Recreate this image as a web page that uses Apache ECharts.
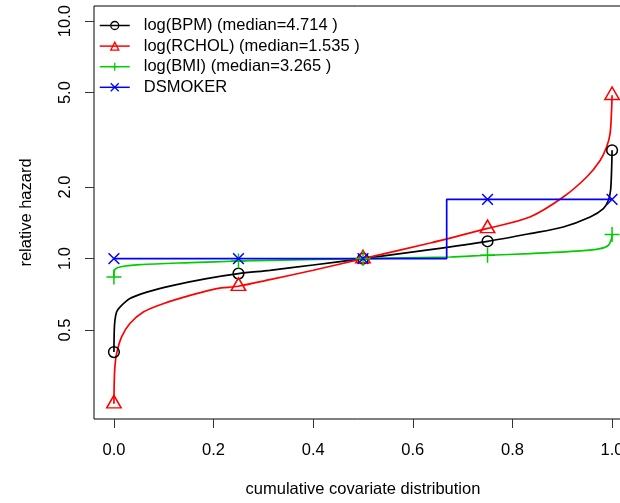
<!DOCTYPE html>
<html><head><meta charset="utf-8">
<script src="https://cdn.jsdelivr.net/npm/echarts@6/dist/echarts.min.js"></script>
<style>html,body{margin:0;padding:0;background:#fff}#c{width:620px;height:503px}</style>
</head><body><div id="c"></div>
<script>
// ---- data ----
const markerX = [0, 0.25, 0.5, 0.75, 1];

const bpmX = [0, 0.0007, 0.002, 0.0053, 0.012, 0.032, 0.066, 0.119, 0.186, 0.25, 0.313, 0.4, 0.5, 0.635, 0.75, 0.835, 0.902, 0.956, 0.9826, 0.9926, 0.997, 0.999, 1];
const bpmY = [0.404, 0.499, 0.55, 0.596, 0.625, 0.679, 0.723, 0.772, 0.824, 0.865, 0.893, 0.94, 1.0, 1.091, 1.183, 1.274, 1.359, 1.497, 1.623, 1.76, 1.94, 2.35, 2.86];

const rcholX = [0, 0.0007, 0.002, 0.0053, 0.0154, 0.032, 0.059, 0.099, 0.153, 0.206, 0.25, 0.313, 0.4, 0.5, 0.635, 0.75, 0.835, 0.902, 0.949, 0.976, 0.989, 0.996, 0.999, 1];
const rcholY = [0.245, 0.307, 0.35, 0.398, 0.468, 0.533, 0.596, 0.646, 0.70, 0.748, 0.765, 0.816, 0.893, 1.0, 1.163, 1.34, 1.497, 1.817, 2.206, 2.59, 2.95, 3.36, 4.21, 4.87];

const bmiX = [0, 0.001, 0.012, 0.052, 0.153, 0.25, 0.313, 0.5, 0.675, 0.75, 0.835, 0.936, 0.976, 0.9926, 0.999, 1];
const bmiY = [0.837, 0.893, 0.922, 0.943, 0.962, 0.977, 0.984, 1.0, 1.016, 1.033, 1.049, 1.077, 1.101, 1.138, 1.214, 1.265];

const smokX = [0, 0.25, 0.5, 0.668, 0.668, 0.75, 1];
const smokY = [1, 1, 1, 1, 1.777, 1.777, 1.777];

const seriesNames = ['log(BPM) (median=4.714 )', 'log(RCHOL) (median=1.535 )', 'log(BMI) (median=3.265 )', 'DSMOKER'];
const xTicks = [0, 0.2, 0.4, 0.6, 0.8, 1.0];
const yTicks = [0.5, 1, 2, 5, 10];
const xTitle = 'cumulative covariate distribution';
const yTitle = 'relative hazard';

// ---- build ----
const FONT = 'Liberation Sans, Arial, Helvetica, sans-serif';
const FS = 16.5;
const PLUS = 'path://M0,-1L0,1M-1,0L1,0';
const CROSS = 'path://M-1,-1L1,1M-1,1L1,-1';

function build(xs, ys) {
  return xs.map((x, i) => {
    const item = { value: [x, Math.log10(ys[i])] };
    if (!markerX.includes(x)) item.symbol = 'none';
    return item;
  });
}

function mkSeries(name, xs, ys, color, symbol, size, offset, smooth) {
  return {
    name, type: 'line', data: build(xs, ys),
    symbol, symbolSize: size, symbolOffset: offset || [0, 0],
    showAllSymbol: true, smooth: smooth || false, animation: false,
    lineStyle: { color, width: 1.7 },
    itemStyle: { color: 'rgba(0,0,0,0)', borderColor: color, borderWidth: 1.5 },
    emphasis: { disabled: true }
  };
}

const chart = echarts.init(document.getElementById('c'), null, { renderer: 'canvas' });
chart.setOption({
  animation: false,
  backgroundColor: '#fff',
  textStyle: { fontFamily: FONT },
  grid: { left: 94, top: 6, width: 538, height: 413, show: true, borderColor: '#000', borderWidth: 1,
    containLabel: false, outerBoundsMode: 'none' },
  legend: {
    orient: 'vertical', left: 99, top: 17, padding: 0,
    itemWidth: 30, itemHeight: 10, itemGap: 3.6,
    textStyle: { fontFamily: FONT, fontSize: FS, color: '#000', padding: [0, 0, 0, 9] },
    itemStyle: { borderWidth: 1.3 },
    lineStyle: { width: 1.5 },
    data: seriesNames
  },
  xAxis: {
    type: 'value', min: -0.04, max: 1.04,
    name: xTitle, nameLocation: 'middle', nameGap: 62,
    nameTextStyle: { fontFamily: FONT, fontSize: FS, color: '#000' },
    axisLine: { show: false, onZero: false },
    splitLine: { show: false },
    axisTick: { show: true, length: 9, customValues: xTicks, lineStyle: { color: '#333', width: 1 } },
    axisLabel: { customValues: xTicks, margin: 23, fontFamily: FONT, fontSize: FS, color: '#000',
      formatter: v => v.toFixed(1) }
  },
  yAxis: {
    type: 'value', min: -0.6753, max: 1.0637,
    name: yTitle, nameLocation: 'middle', nameGap: 59,
    nameTextStyle: { fontFamily: FONT, fontSize: FS, color: '#000' },
    axisLine: { show: false, onZero: false },
    splitLine: { show: false },
    axisTick: { show: true, length: 9, customValues: yTicks.map(Math.log10), lineStyle: { color: '#333', width: 1 } },
    axisLabel: { customValues: yTicks.map(Math.log10), rotate: 90, margin: 20, fontFamily: FONT, fontSize: FS, color: '#000',
      formatter: v => Math.pow(10, v).toFixed(1) }
  },
  series: [
    mkSeries(seriesNames[0], bpmX, bpmY, '#000000', 'circle', 10.7, null, 0.3),
    mkSeries(seriesNames[1], rcholX, rcholY, '#FF0000', 'triangle', [14.4, 12.5], [0, -2.1], 0.3),
    mkSeries(seriesNames[2], bmiX, bmiY, '#00CD00', PLUS, 15, null, 0.3),
    mkSeries(seriesNames[3], smokX, smokY, '#0000FF', CROSS, 10.7)
  ]
});
</script></body></html>
